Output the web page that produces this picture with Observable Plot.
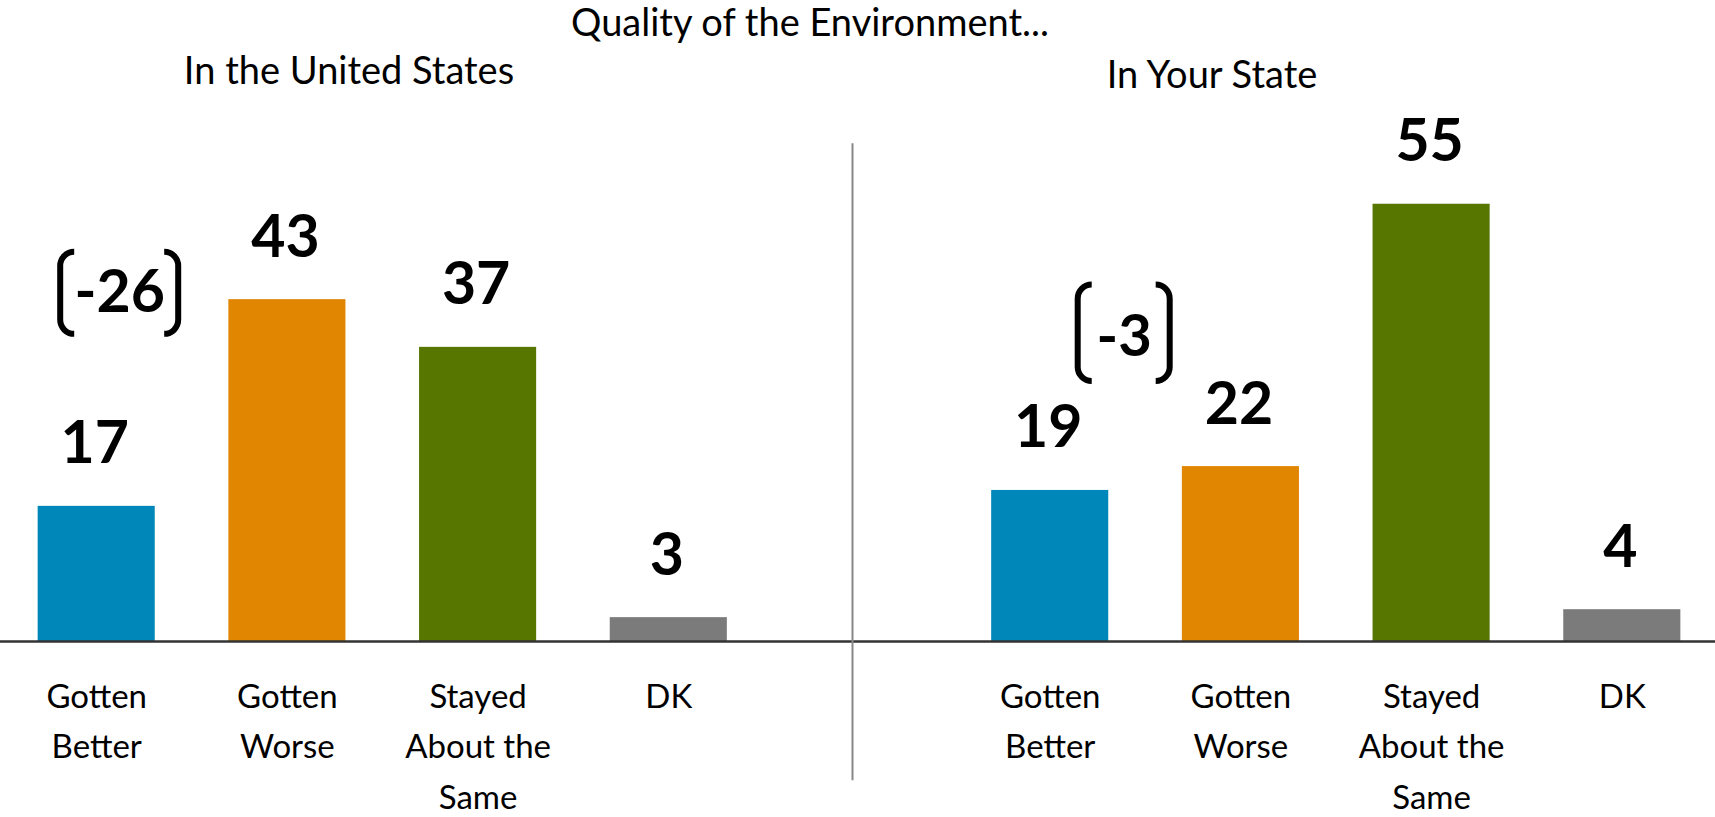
<!DOCTYPE html>
<html><head><meta charset="utf-8">
<script src="https://cdn.jsdelivr.net/npm/d3@7"></script>
<script src="https://cdn.jsdelivr.net/npm/@observablehq/plot@0.6"></script>
<style>
body{margin:0;background:#fff;font-family:Lato,sans-serif;}
#header{position:relative;width:1715px;height:100px;}
#header span{position:absolute;font-size:38px;line-height:38px;white-space:nowrap;transform:translateX(-50%);color:#000}
</style></head><body>
<div id="header"></div>
<div id="chart"></div>
<script>
const title = "Quality of the Environment...";
const panels = ["US", "State"];
const panelTitles = ["In the United States", "In Your State"];
const categories = ["Gotten Better", "Gotten Worse", "Stayed About the Same", "DK"];
const categoryLabels = ["Gotten\nBetter", "Gotten\nWorse", "Stayed\nAbout the\nSame", "DK"];
const usValues = [17, 43, 37, 3];
const stateValues = [19, 22, 55, 4];
const netLabels = ["-26", "-3"];
const netCategory = ["Gotten Better", "Gotten Better"];
const colors = ["#0087B9", "#E18600", "#567600", "#7B7B7B"];

// header
const header = document.getElementById("header");
const hdr = [[title, 810, 2], [panelTitles[0], 349, 50], [panelTitles[1], 1212, 54]];
for (const [t, x, y] of hdr) {
  const s = document.createElement("span");
  s.textContent = t; s.style.left = x + "px"; s.style.top = y + "px";
  header.appendChild(s);
}

const series = [usValues, stateValues];
const rows = [];
panels.forEach((p, pi) => categories.forEach((c, ci) => rows.push({
  key: p + "|" + c, panel: p, category: c, label: categoryLabels[ci], value: series[pi][ci]
})));
const xDomain = [...categories.map(c => "US|" + c), "gap", ...categories.map(c => "State|" + c)];
const nets = netLabels.map((l, i) => ({key: panels[i] + "|" + netCategory[i], label: l}));

function brackets(datum, dx, yv, half, top, bottom, r) {
  return (index, scales) => {
    const g = d3.create("svg:g").attr("fill", "none").attr("stroke", "#000").attr("stroke-width", 6);
    const bw = typeof scales.x.bandwidth === "function" ? scales.x.bandwidth() : (scales.x.bandwidth || 0);
    const cx = scales.x(datum.key) + bw / 2 + dx;
    const by = scales.y(yv);
    const t = by + top, b = by + bottom;
    for (const side of [-1, 1]) {
      const xs = cx + side * half, xh = xs - side * r, sw = side < 0 ? 0 : 1;
      g.append("path").attr("d", `M${xh},${t} A${r},${r} 0 0 ${sw} ${xs},${t + r} L${xs},${b - r} A${r},${r} 0 0 ${sw} ${xh},${b}`);
    }
    return g.node();
  };
}

const chart = Plot.plot({
  width: 1715,
  height: 717,
  marginLeft: 3,
  marginRight: 0,
  marginTop: 64,
  marginBottom: 176,
  style: {fontFamily: "Lato, sans-serif", background: "white", color: "black"},
  x: {domain: xDomain, paddingInner: 0.386, paddingOuter: 0.1817, round: false, axis: null},
  y: {domain: [0, 60], axis: null},
  color: {domain: categories, range: colors},
  marks: [
    Plot.barY(rows, {x: "key", y: "value", fill: "category"}),
    Plot.ruleY([0], {stroke: "#333", strokeWidth: 2.5, insetLeft: -3}),
    Plot.ruleX(["gap"], {y1: 62.6, y2: -17.5, stroke: "#888", strokeWidth: 2, dx: -7}),
    Plot.text(rows, {x: "key", y: "value", text: d => String(d.value), lineAnchor: "bottom", dy: -43, dx: -2, fontSize: 59, fontWeight: "bold", fill: "black"}),
    Plot.text(rows, {x: "key", y: 0, text: "label", lineAnchor: "top", dy: 30.5, fontSize: 33, lineHeight: 1.53, fill: "black"}),
    Plot.text([nets[0]], {x: "key", y: 41.4, text: "label", lineAnchor: "bottom", dx: 23, fontSize: 59, fontWeight: "bold", fill: "black"}),
    Plot.text([nets[1]], {x: "key", y: 35.9, text: "label", lineAnchor: "bottom", dx: 74, fontSize: 58, fontWeight: "bold", fill: "black"}),
    brackets(nets[0], 23, 41.4, 59, -60, 22, 14),
    brackets(nets[1], 74, 35.9, 46, -71, 25.5, 14)
  ]
});
document.getElementById("chart").appendChild(chart);
</script>
</body></html>
